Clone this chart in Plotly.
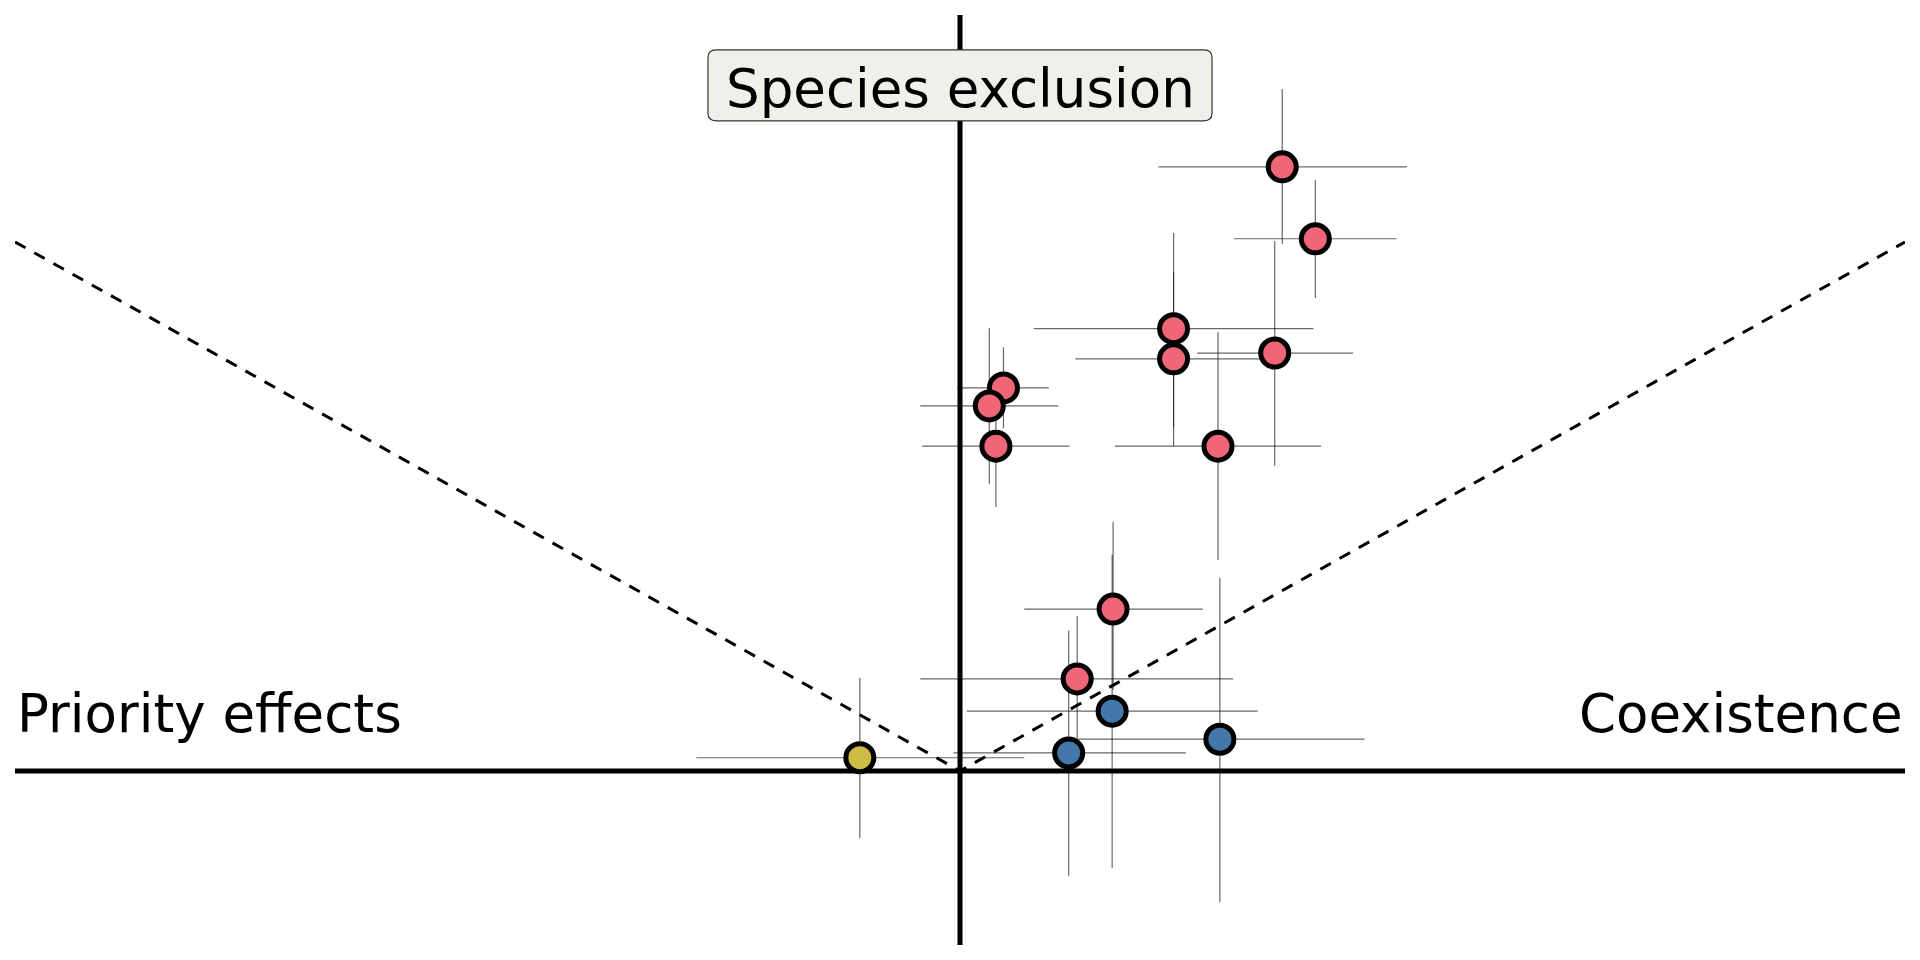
import plotly.graph_objects as go

# ---- data (niche difference on x, fitness difference on y; arbitrary units) ----
x_vals = [0.341, 0.376, 0.226, 0.226, 0.333, 0.046, 0.031, 0.038, 0.273, 0.162, 0.124,
          0.161, 0.115, 0.275, -0.106]
y_vals = [1.142, 1.006, 0.836, 0.779, 0.790, 0.724, 0.690, 0.614, 0.614, 0.306, 0.174,
          0.113, 0.034, 0.060, 0.025]
x_low = [0.210, 0.290, 0.078, 0.122, 0.251, -0.003, -0.042, -0.040, 0.164, 0.068, -0.042,
         0.007, -0.007, 0.125, -0.279]
x_high = [0.473, 0.462, 0.374, 0.317, 0.416, 0.094, 0.104, 0.116, 0.382, 0.257, 0.289,
          0.315, 0.239, 0.428, 0.068]
y_low = [0.996, 0.894, 0.614, 0.650, 0.577, 0.648, 0.543, 0.499, 0.399, 0.153, 0.060,
         -0.183, -0.198, -0.248, -0.127]
y_high = [1.289, 1.117, 1.017, 0.943, 1.002, 0.801, 0.837, 0.701, 0.830, 0.471, 0.293,
          0.408, 0.265, 0.365, 0.176]
outcome = ["exclusion"] * 11 + ["coexistence"] * 3 + ["priority"]

boundary_x = [-1, 0, 1]
boundary_y = [1, 0, 1]

region_labels = ["Priority effects", "Coexistence", "Species exclusion"]

colors = {"exclusion": "#EE6677", "coexistence": "#4477AA", "priority": "#CCBB44"}

X_RANGE = [-1.0, 1.0]
Y_RANGE = [-0.329, 1.429]

fig = go.Figure()

# axes lines
fig.add_trace(go.Scatter(x=[X_RANGE[0], X_RANGE[1]], y=[0, 0], mode="lines",
                         line=dict(color="black", width=5), hoverinfo="skip"))
fig.add_trace(go.Scatter(x=[0, 0], y=[Y_RANGE[0], Y_RANGE[1]], mode="lines",
                         line=dict(color="black", width=5), hoverinfo="skip"))

# error bars (all under markers)
fig.add_trace(go.Scatter(
    x=x_vals, y=y_vals, mode="markers",
    marker=dict(size=1, color="rgba(0,0,0,0)"),
    error_x=dict(type="data", symmetric=False,
                 array=[h - v for h, v in zip(x_high, x_vals)],
                 arrayminus=[v - l for l, v in zip(x_low, x_vals)],
                 color="rgba(0,0,0,0.6)", thickness=1.2, width=0),
    error_y=dict(type="data", symmetric=False,
                 array=[h - v for h, v in zip(y_high, y_vals)],
                 arrayminus=[v - l for l, v in zip(y_low, y_vals)],
                 color="rgba(0,0,0,0.6)", thickness=1.2, width=0),
    hoverinfo="skip"))

# boundary dashed lines
fig.add_trace(go.Scatter(x=boundary_x, y=boundary_y, mode="lines",
                         line=dict(color="black", width=3, dash="12px,10px"),
                         hoverinfo="skip"))

# markers per outcome
for key in ["exclusion", "coexistence", "priority"]:
    xs = [x for x, o in zip(x_vals, outcome) if o == key]
    ys = [y for y, o in zip(y_vals, outcome) if o == key]
    fig.add_trace(go.Scatter(
        x=xs, y=ys, mode="markers", name=key,
        marker=dict(size=28, color=colors[key], line=dict(color="black", width=5))))

# rounded box for "Species exclusion"
bx0, bx1 = -0.2667, 0.2667
by0, by1 = 1.229, 1.363
rx, ry = 8 / 945, 8 / 529
path = (f"M {bx0 + rx},{by0} L {bx1 - rx},{by0} Q {bx1},{by0} {bx1},{by0 + ry} "
        f"L {bx1},{by1 - ry} Q {bx1},{by1} {bx1 - rx},{by1} "
        f"L {bx0 + rx},{by1} Q {bx0},{by1} {bx0},{by1 - ry} "
        f"L {bx0},{by0 + ry} Q {bx0},{by0} {bx0 + rx},{by0} Z")
fig.add_shape(type="path", path=path, xref="x", yref="y", layer="above",
              fillcolor="#F0F0EB", line=dict(color="#333333", width=1.2))

font = dict(family="DejaVu Sans", size=53, color="black")
fig.add_annotation(x=X_RANGE[0], y=0.1078, xref="x", yref="y", text=region_labels[0],
                   showarrow=False, xanchor="left", yanchor="middle", font=font)
fig.add_annotation(x=X_RANGE[1], y=0.1078, xref="x", yref="y", text=region_labels[1],
                   showarrow=False, xanchor="right", yanchor="middle", font=font)
fig.add_annotation(x=0, y=1.291, xref="x", yref="y", text=region_labels[2],
                   showarrow=False, xanchor="center", yanchor="middle", font=font)

fig.update_layout(
    width=1920, height=960,
    margin=dict(l=7, r=23, t=7, b=23),
    paper_bgcolor="white", plot_bgcolor="white",
    showlegend=False,
    xaxis=dict(range=X_RANGE, visible=False, showgrid=False, zeroline=False),
    yaxis=dict(range=Y_RANGE, visible=False, showgrid=False, zeroline=False),
)

fig.write_html("out.html")
